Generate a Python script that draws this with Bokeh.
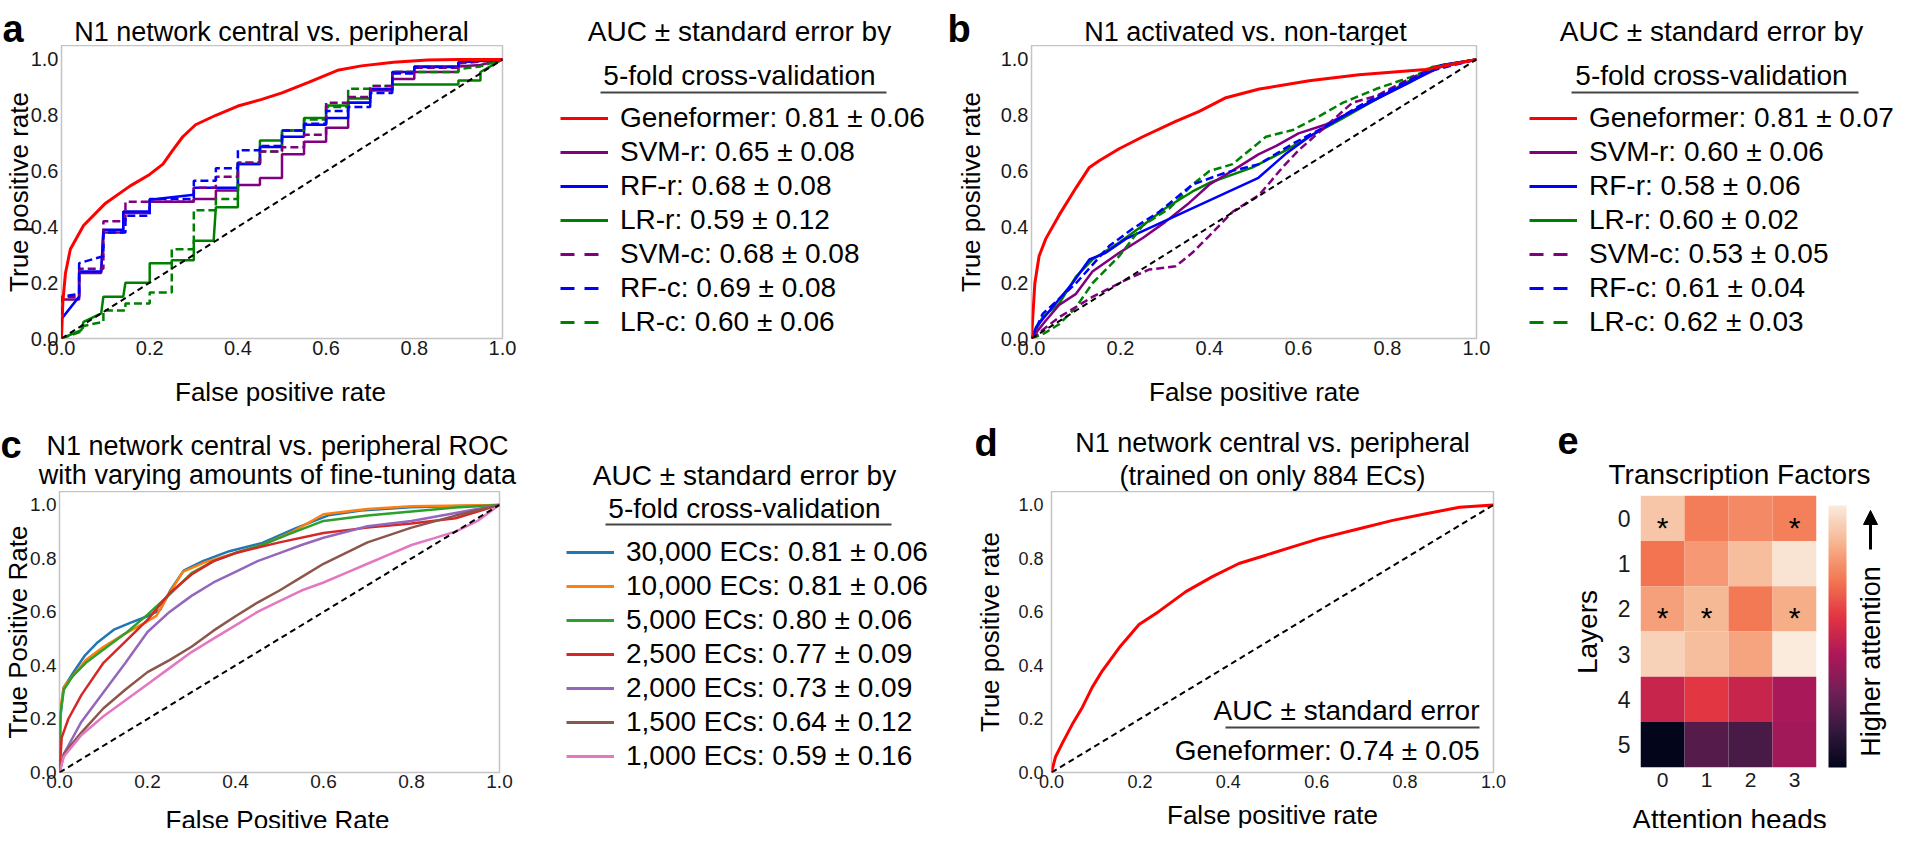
import numpy as np
from bokeh.plotting import figure
from bokeh.layouts import row, column
from bokeh.models import (Legend, LegendItem, Label, ColorBar, LinearColorMapper, NormalHead,
                          FixedTicker, ColumnDataSource, Arrow, PrintfTickFormatter, Range1d)
from bokeh.core.properties import value
from bokeh.embed import file_html
from bokeh.resources import INLINE

FONT = "Liberation Sans"

# ---------------------------------------------------------------- data
TICKS = [0.0, 0.2, 0.4, 0.6, 0.8, 1.0]
CHANCE = [0.0, 1.0]

# ---- panel a : N1 network central vs. peripheral
A_TITLE = "N1 network central vs. peripheral"
A_LABELS = ["Geneformer: 0.81 \u00b1 0.06", "SVM-r: 0.65 \u00b1 0.08", "RF-r: 0.68 \u00b1 0.08",
            "LR-r: 0.59 \u00b1 0.12", "SVM-c: 0.68 \u00b1 0.08", "RF-c: 0.69 \u00b1 0.08",
            "LR-c: 0.60 \u00b1 0.06"]
A_GF_X = [0, 0.003, 0.009, 0.02, 0.05, 0.1, 0.155, 0.2, 0.23, 0.252, 0.275, 0.304, 0.35, 0.4,
          0.454, 0.5, 0.56, 0.626, 0.68, 0.753, 0.83, 0.9, 1.0]
A_GF_Y = [0, 0.13, 0.234, 0.32, 0.405, 0.485, 0.546, 0.588, 0.625, 0.674, 0.723, 0.766, 0.80,
          0.833, 0.857, 0.88, 0.918, 0.961, 0.977, 0.99, 0.998, 1.0, 1.0]
A_SVMR_X = [0, 0, 0.04, 0.04, 0.09, 0.095, 0.14, 0.14, 0.2, 0.2, 0.3, 0.3, 0.35, 0.35, 0.4, 0.4,
            0.45, 0.45, 0.5, 0.5, 0.55, 0.55, 0.6, 0.6, 0.65, 0.65, 0.7, 0.7, 0.75, 0.75, 0.8, 0.8,
            0.9, 0.9, 0.95, 1.0]
A_SVMR_Y = [0, 0.14, 0.14, 0.235, 0.235, 0.38, 0.38, 0.45, 0.45, 0.49, 0.49, 0.50, 0.50, 0.53,
            0.53, 0.55, 0.55, 0.575, 0.575, 0.66, 0.66, 0.705, 0.705, 0.755, 0.755, 0.845, 0.845,
            0.89, 0.89, 0.93, 0.93, 0.955, 0.955, 0.975, 0.98, 1.0]
A_RFR_X = [0, 0, 0.04, 0.04, 0.09, 0.095, 0.14, 0.14, 0.2, 0.2, 0.3, 0.3, 0.4, 0.4, 0.45, 0.45,
           0.5, 0.5, 0.55, 0.55, 0.6, 0.6, 0.65, 0.65, 0.7, 0.7, 0.75, 0.75, 0.8, 0.8, 0.9, 0.9, 1.0]
A_RFR_Y = [0, 0.07, 0.15, 0.24, 0.24, 0.39, 0.39, 0.455, 0.455, 0.497, 0.515, 0.54, 0.54, 0.625,
           0.625, 0.686, 0.686, 0.723, 0.723, 0.766, 0.766, 0.79, 0.79, 0.845, 0.845, 0.894, 0.894,
           0.955, 0.955, 0.975, 0.975, 0.99, 1.0]
A_LRR_X = [0, 0.045, 0.05, 0.09, 0.095, 0.14, 0.145, 0.2, 0.2, 0.25, 0.25, 0.3, 0.3, 0.345, 0.35,
           0.4, 0.4, 0.45, 0.45, 0.5, 0.5, 0.55, 0.55, 0.6, 0.6, 0.65, 0.65, 0.7, 0.7, 0.75, 0.75,
           0.9, 0.9, 0.95, 0.95, 1.0]
A_LRR_Y = [0.0, 0.03, 0.06, 0.09, 0.15, 0.15, 0.2, 0.2, 0.27, 0.27, 0.28, 0.28, 0.35, 0.35, 0.47,
           0.47, 0.625, 0.625, 0.71, 0.71, 0.745, 0.745, 0.79, 0.79, 0.835, 0.835, 0.86, 0.86,
           0.89, 0.89, 0.91, 0.91, 0.925, 0.925, 0.955, 1.0]
A_SVMC_X = [0, 0, 0.04, 0.04, 0.095, 0.095, 0.145, 0.145, 0.3, 0.3, 0.35, 0.35, 0.4, 0.4, 0.45,
            0.45, 0.5, 0.5, 0.55, 0.55, 0.6, 0.6, 0.65, 0.65, 0.7, 0.7, 0.75, 0.75, 0.8, 0.8, 0.9,
            0.9, 1.0]
A_SVMC_Y = [0, 0.15, 0.15, 0.25, 0.25, 0.42, 0.42, 0.49, 0.49, 0.54, 0.54, 0.58, 0.58, 0.63, 0.63,
            0.67, 0.67, 0.685, 0.685, 0.73, 0.73, 0.845, 0.845, 0.865, 0.865, 0.905, 0.905, 0.955,
            0.955, 0.97, 0.97, 0.985, 1.0]
A_RFC_X = [0, 0, 0.02, 0.04, 0.04, 0.095, 0.095, 0.145, 0.145, 0.2, 0.2, 0.3, 0.3, 0.35, 0.35, 0.4,
           0.4, 0.45, 0.45, 0.5, 0.5, 0.55, 0.55, 0.6, 0.6, 0.65, 0.65, 0.7, 0.7, 0.75, 0.75, 0.8,
           0.8, 0.9, 0.9, 1.0]
A_RFC_Y = [0, 0.15, 0.155, 0.16, 0.27, 0.295, 0.38, 0.38, 0.44, 0.44, 0.5, 0.5, 0.565, 0.565, 0.61,
           0.61, 0.675, 0.675, 0.69, 0.69, 0.745, 0.745, 0.77, 0.77, 0.815, 0.815, 0.83, 0.83,
           0.88, 0.88, 0.95, 0.95, 0.973, 0.973, 0.99, 1.0]
A_LRC_X = [0, 0.045, 0.05, 0.095, 0.095, 0.145, 0.145, 0.2, 0.2, 0.25, 0.25, 0.3, 0.3, 0.35, 0.35,
           0.4, 0.4, 0.45, 0.45, 0.5, 0.5, 0.55, 0.55, 0.6, 0.6, 0.65, 0.65, 0.7, 0.7, 0.75, 0.75,
           0.9, 0.9, 0.95, 1.0]
A_LRC_Y = [0, 0.025, 0.045, 0.06, 0.1, 0.1, 0.125, 0.125, 0.165, 0.165, 0.32, 0.32, 0.46, 0.46,
           0.5, 0.5, 0.63, 0.63, 0.67, 0.67, 0.745, 0.745, 0.785, 0.785, 0.83, 0.83, 0.895, 0.895,
           0.905, 0.905, 0.955, 0.955, 0.965, 0.975, 1.0]

# ---- panel b : N1 activated vs. non-target
B_TITLE = "N1 activated vs. non-target"
B_LABELS = ["Geneformer: 0.81 \u00b1 0.07", "SVM-r: 0.60 \u00b1 0.06", "RF-r: 0.58 \u00b1 0.06",
            "LR-r: 0.60 \u00b1 0.02", "SVM-c: 0.53 \u00b1 0.05", "RF-c: 0.61 \u00b1 0.04",
            "LR-c: 0.62 \u00b1 0.03"]
B_GF_X = [0, 0.0075, 0.017, 0.032, 0.062, 0.1, 0.13, 0.152, 0.197, 0.25, 0.324, 0.377, 0.437,
          0.512, 0.624, 0.736, 0.886, 1.0]
B_GF_Y = [0, 0.198, 0.295, 0.357, 0.442, 0.54, 0.613, 0.637, 0.68, 0.723, 0.778, 0.814, 0.863,
          0.894, 0.924, 0.945, 0.964, 1.0]
B_SVMR_X = [0, 0.03, 0.062, 0.1, 0.137, 0.197, 0.25, 0.3, 0.35, 0.4, 0.45, 0.51, 0.55, 0.6, 0.66,
            0.72, 0.78, 0.856, 0.92, 1.0]
B_SVMR_Y = [0, 0.06, 0.12, 0.16, 0.24, 0.307, 0.36, 0.417, 0.48, 0.552, 0.6, 0.66, 0.69, 0.735,
            0.766, 0.814, 0.863, 0.924, 0.973, 1.0]
B_RFR_X = [0, 0.01, 0.047, 0.092, 0.13, 0.167, 0.212, 0.51, 0.57, 0.624, 0.7, 0.774, 0.85, 0.92, 1.0]
B_RFR_Y = [0, 0.04, 0.112, 0.198, 0.283, 0.307, 0.357, 0.576, 0.66, 0.723, 0.796, 0.857, 0.918,
           0.979, 1.0]
B_LRR_X = [0, 0.025, 0.062, 0.1, 0.137, 0.197, 0.25, 0.3, 0.362, 0.4, 0.497, 0.571, 0.624, 0.7,
           0.774, 0.85, 0.9, 1.0]
B_LRR_Y = [0, 0.076, 0.125, 0.222, 0.283, 0.344, 0.405, 0.466, 0.527, 0.558, 0.613, 0.674, 0.723,
           0.79, 0.857, 0.924, 0.973, 1.0]
B_SVMC_X = [0, 0.062, 0.137, 0.212, 0.264, 0.324, 0.362, 0.4, 0.452, 0.512, 0.564, 0.6, 0.661,
            0.721, 0.774, 0.856, 0.92, 1.0]
B_SVMC_Y = [0, 0.076, 0.149, 0.21, 0.247, 0.259, 0.308, 0.369, 0.454, 0.515, 0.613, 0.674, 0.76,
            0.845, 0.869, 0.936, 0.979, 1.0]
B_RFC_X = [0, 0.025, 0.1, 0.175, 0.227, 0.287, 0.362, 0.437, 0.512, 0.587, 0.661, 0.736, 0.811,
           0.886, 1.0]
B_RFC_Y = [0, 0.088, 0.198, 0.332, 0.393, 0.454, 0.552, 0.595, 0.625, 0.698, 0.76, 0.833, 0.894,
           0.955, 1.0]
B_LRC_X = [0, 0.025, 0.062, 0.1, 0.137, 0.197, 0.25, 0.31, 0.362, 0.4, 0.452, 0.527, 0.587, 0.646,
           0.7, 0.774, 0.85, 0.91, 1.0]
B_LRC_Y = [0, 0.015, 0.051, 0.112, 0.198, 0.295, 0.405, 0.466, 0.552, 0.6, 0.625, 0.723, 0.747,
           0.796, 0.845, 0.894, 0.936, 0.973, 1.0]

# ---- panel c : varying amounts of fine-tuning data
C_TITLE = ["N1 network central vs. peripheral ROC", "with varying amounts of fine-tuning data"]
C_LABELS = ["30,000 ECs: 0.81 \u00b1 0.06", "10,000 ECs: 0.81 \u00b1 0.06", "5,000 ECs: 0.80 \u00b1 0.06",
            "2,500 ECs: 0.77 \u00b1 0.09", "2,000 ECs: 0.73 \u00b1 0.09", "1,500 ECs: 0.64 \u00b1 0.12",
            "1,000 ECs: 0.59 \u00b1 0.16"]
C_30K_X = [0, 0.0015, 0.009, 0.028, 0.058, 0.087, 0.125, 0.162, 0.2, 0.229, 0.252, 0.282, 0.327,
           0.386, 0.461, 0.536, 0.611, 0.685, 0.797, 1.0]
C_30K_Y = [0, 0.195, 0.316, 0.365, 0.438, 0.487, 0.535, 0.56, 0.584, 0.608, 0.681, 0.754, 0.791,
           0.827, 0.858, 0.912, 0.961, 0.979, 0.991, 1.0]
C_10K_X = [0, 0.003, 0.01, 0.03, 0.06, 0.1, 0.15, 0.2, 0.22, 0.25, 0.28, 0.33, 0.4, 0.46, 0.53,
           0.6, 0.7, 0.8, 1.0]
C_10K_Y = [0, 0.25, 0.32, 0.36, 0.42, 0.47, 0.52, 0.565, 0.585, 0.67, 0.75, 0.785, 0.82, 0.85, 0.9,
           0.965, 0.985, 0.995, 1.0]
C_5K_X = [0, 0.002, 0.01, 0.03, 0.06, 0.1, 0.15, 0.2, 0.25, 0.3, 0.35, 0.4, 0.46, 0.52, 0.6, 0.7,
          0.8, 0.9, 1.0]
C_5K_Y = [0, 0.22, 0.31, 0.36, 0.41, 0.46, 0.52, 0.59, 0.665, 0.745, 0.79, 0.82, 0.85, 0.89, 0.94,
          0.96, 0.975, 0.99, 1.0]
C_2500_X = [0, 0.005, 0.02, 0.05, 0.1, 0.15, 0.2, 0.25, 0.3, 0.35, 0.4, 0.5, 0.6, 0.7, 0.8, 0.9, 1.0]
C_2500_Y = [0, 0.13, 0.2, 0.29, 0.41, 0.49, 0.57, 0.67, 0.74, 0.79, 0.82, 0.86, 0.895, 0.915, 0.93,
            0.95, 1.0]
C_2000_X = [0, 0.01, 0.05, 0.1, 0.15, 0.2, 0.25, 0.3, 0.35, 0.4, 0.45, 0.5, 0.55, 0.6, 0.7, 0.8,
            0.9, 1.0]
C_2000_Y = [0, 0.07, 0.19, 0.3, 0.41, 0.525, 0.6, 0.66, 0.71, 0.75, 0.79, 0.82, 0.85, 0.877, 0.92,
            0.94, 0.97, 1.0]
C_1500_X = [0, 0.01, 0.05, 0.1, 0.15, 0.2, 0.25, 0.3, 0.35, 0.4, 0.45, 0.5, 0.55, 0.6, 0.7, 0.8,
            0.9, 1.0]
C_1500_Y = [0, 0.07, 0.15, 0.24, 0.31, 0.375, 0.42, 0.47, 0.53, 0.584, 0.635, 0.68, 0.73, 0.78,
            0.86, 0.915, 0.96, 1.0]
C_1000_X = [0, 0.01, 0.05, 0.1, 0.15, 0.2, 0.25, 0.3, 0.35, 0.4, 0.45, 0.5, 0.55, 0.6, 0.65, 0.7,
            0.75, 0.8, 0.85, 0.9, 0.95, 1.0]
C_1000_Y = [0, 0.06, 0.14, 0.21, 0.27, 0.33, 0.39, 0.45, 0.5, 0.55, 0.6, 0.64, 0.68, 0.71, 0.745,
            0.78, 0.815, 0.85, 0.875, 0.9, 0.94, 1.0]

# ---- panel d : trained on only 884 ECs
D_TITLE = ["N1 network central vs. peripheral", "(trained on only 884 ECs)"]
D_X = [0, 0.009, 0.024, 0.047, 0.07, 0.092, 0.115, 0.153, 0.198, 0.243, 0.304, 0.364, 0.424,
       0.485, 0.545, 0.606, 0.696, 0.772, 0.847, 0.923, 1.0]
D_Y = [0, 0.058, 0.108, 0.18, 0.244, 0.318, 0.38, 0.466, 0.553, 0.602, 0.676, 0.732, 0.781, 0.812,
       0.843, 0.874, 0.911, 0.942, 0.967, 0.991, 1.0]
D_AUC = "Geneformer: 0.74 \u00b1 0.05"

# ---- panel e : attention heatmap (layers x heads, relative attention)
E_TITLE = "Transcription Factors"
E_LAYERS = [0, 1, 2, 3, 4, 5]
E_HEADS = [0, 1, 2, 3]
E_ATT = [[0.90, 0.73, 0.76, 0.735],
         [0.71, 0.79, 0.88, 0.98],
         [0.81, 0.87, 0.72, 0.84],
         [0.93, 0.88, 0.82, 1.00],
         [0.50, 0.58, 0.50, 0.42],
         [0.00, 0.22, 0.19, 0.40]]
E_STAR_LAYER = [0, 0, 2, 2, 2]
E_STAR_HEAD = [0, 3, 0, 1, 3]
E_CBAR_LABEL = "Higher attention"

LEG_TITLE = ["AUC \u00b1 standard error by", "5-fold cross-validation"]
FPR_LABEL, TPR_LABEL = "False positive rate", "True positive rate"

# ---------------------------------------------------------------- styles
RED, PURPLE, BLUE, GREEN = "#ff0000", "#800080", "#0000ff", "#008000"
AB_COLORS = [RED, PURPLE, BLUE, GREEN, PURPLE, BLUE, GREEN]
AB_DASH = ["solid", "solid", "solid", "solid", "8 4", "8 4", "8 4"]
AB_LEG_DASH = ["solid", "solid", "solid", "solid", "14 10", "14 10", "14 10"]
C_COLORS = ["#1f77b4", "#ff7f0e", "#2ca02c", "#d62728", "#9467bd", "#8c564b", "#e377c2"]

ROCKET_POS = [0.0, 0.143, 0.286, 0.429, 0.571, 0.714, 0.857, 1.0]
ROCKET_HEX = ["#03051A", "#35193E", "#701F57", "#AD1759", "#E13342", "#F37651", "#F6B48F", "#FAEBDD"]
NAN = float("nan")


def make_palette(n=256):
    rgb = np.array([[int(h[i:i + 2], 16) for i in (1, 3, 5)] for h in ROCKET_HEX], float)
    out = []
    for v in np.linspace(0, 1, n):
        c = [int(round(np.interp(v, ROCKET_POS, rgb[:, k]))) for k in range(3)]
        out.append("#%02x%02x%02x" % tuple(c))
    return out


def blank_fig(width, height, bottom=0):
    p = figure(width=width, height=height, x_range=Range1d(0, 1), y_range=Range1d(0, 1),
               x_axis_location=None, y_axis_location=None, output_backend="svg",
               toolbar_location=None, min_border=0, min_border_left=0, min_border_right=0,
               min_border_top=0, min_border_bottom=bottom)
    p.outline_line_color = None
    p.grid.visible = False
    return p


def add_text(p, txt, x, y, size="28px", align="center", style="normal", baseline="middle",
             angle=0):
    p.add_layout(Label(x=x, y=y, x_units="screen", y_units="screen", text=txt, angle=angle,
                       angle_units="deg", text_font=FONT, text_font_size=size,
                       text_font_style=style, text_align=align, text_baseline=baseline,
                       text_color="black"))


def letter(p, txt, x, y):
    add_text(p, txt, x, y, size="38px", align="left", style="bold", baseline="alphabetic")


def underline(p, x0, x1, y):
    p.add_layout(Arrow(end=None, x_start=x0, y_start=y, x_end=x1, y_end=y,
                       start_units="screen", end_units="screen",
                       line_color="#444444", line_width=2))


def style_axis(ax, tick_size, standoff):
    ax.major_label_text_font = FONT
    ax.major_label_text_font_size = tick_size
    ax.major_label_text_color = "#1a1a1a"
    ax.axis_label_text_font = FONT
    ax.axis_label_text_font_size = "26px"
    ax.axis_label_text_font_style = "normal"
    ax.axis_label_text_color = "black"
    ax.axis_line_color = None
    ax.major_tick_line_color = None
    ax.minor_tick_line_color = None
    ax.major_tick_out = 0
    ax.major_tick_in = 0
    ax.minor_tick_out = 0
    ax.minor_tick_in = 0
    ax.major_label_standoff = standoff


def roc_figure(width, height, left, right, bottom, ylabel, tick_size="20px",
               ytick_standoff=3, ylab_standoff=0):
    p = figure(width=width, height=height, x_range=Range1d(0, 1), y_range=Range1d(0, 1.05),
               output_backend="svg", toolbar_location=None, y_axis_label=ylabel,
               min_border_left=left, min_border_right=right,
               min_border_top=0, min_border_bottom=bottom)
    p.xaxis.axis_label = None
    fmt = PrintfTickFormatter(format="%.1f")
    for ax in (p.xaxis[0], p.yaxis[0]):
        ax.ticker = FixedTicker(ticks=TICKS)
        ax.formatter = fmt
    style_axis(p.xaxis[0], tick_size, 2)
    style_axis(p.yaxis[0], tick_size, ytick_standoff)
    p.yaxis.axis_label_standoff = ylab_standoff
    p.grid.visible = False
    p.outline_line_color = "#c4c4c4"
    p.outline_line_width = 1.5
    return p


def legend_figure(width, height, bottom, labels, colors, dashes, loc, tx, ty2, ux0, ux1, uy):
    p = blank_fig(width, height, bottom)
    items = []
    for lab, col, dash in zip(labels, colors, dashes):
        # legend sample only: a renderer with no drawable points
        r = p.line(x=[NAN, NAN], y=[NAN, NAN], line_color=col, line_dash=dash, line_width=3)
        items.append(LegendItem(label=lab, renderers=[r]))
    leg = Legend(items=items, location=loc, label_text_font=FONT, label_text_font_size="28px",
                 label_text_color="black", glyph_width=48, glyph_height=32, label_height=32,
                 label_standoff=12, spacing=2, padding=0, margin=0, border_line_color=None,
                 background_fill_alpha=0)
    p.add_layout(leg)
    add_text(p, LEG_TITLE[1], tx, ty2)
    underline(p, ux0, ux1, uy)
    return p


# ================================================================ header
h1 = blank_fig(1895, 45)
letter(h1, "a", 2, 17)
add_text(h1, A_TITLE, 271, 14, size="27px")
add_text(h1, LEG_TITLE[0], 739, 14)
letter(h1, "b", 947, 17)
add_text(h1, B_TITLE, 1245, 14, size="27px")
add_text(h1, LEG_TITLE[0], 1711, 14)

# ================================================================ top row
ROW1_H, ROW1_B = 323, 30

pa = roc_figure(532, ROW1_H, 57, 30, ROW1_B, TPR_LABEL, ylab_standoff=-6)
a_series = [(A_GF_X, A_GF_Y), (A_SVMR_X, A_SVMR_Y), (A_RFR_X, A_RFR_Y), (A_LRR_X, A_LRR_Y),
            (A_SVMC_X, A_SVMC_Y), (A_RFC_X, A_RFC_Y), (A_LRC_X, A_LRC_Y)]
for i in [3, 1, 2, 6, 4, 5, 0]:
    xs, ys = a_series[i]
    pa.line(xs, ys, line_color=AB_COLORS[i], line_dash=AB_DASH[i],
            line_width=3 if i == 0 else 2.5)
pa.line(CHANCE, CHANCE, line_color="black", line_dash="6 4", line_width=2)

la = legend_figure(418, ROW1_H, ROW1_B, A_LABELS, AB_COLORS, AB_LEG_DASH, (28, 0),
                   207, 263, 68, 354, 246)

pb = roc_figure(572, ROW1_H, 81, 46, ROW1_B, TPR_LABEL, ylab_standoff=12)
b_series = [(B_GF_X, B_GF_Y), (B_SVMR_X, B_SVMR_Y), (B_RFR_X, B_RFR_Y), (B_LRR_X, B_LRR_Y),
            (B_SVMC_X, B_SVMC_Y), (B_RFC_X, B_RFC_Y), (B_LRC_X, B_LRC_Y)]
for i in [3, 1, 2, 6, 4, 5, 0]:
    xs, ys = b_series[i]
    pb.line(xs, ys, line_color=AB_COLORS[i], line_dash=AB_DASH[i],
            line_width=3 if i == 0 else 2.5)
pb.line(CHANCE, CHANCE, line_color="black", line_dash="6 4", line_width=2)

lb = legend_figure(373, ROW1_H, ROW1_B, B_LABELS, AB_COLORS, AB_LEG_DASH, (7, 0),
                   189, 263, 49, 336, 246)

# ================================================================ middle strip
h2 = blank_fig(1895, 123)
add_text(h2, FPR_LABEL, 280, 100, size="26px")
add_text(h2, FPR_LABEL, 1254, 100, size="26px")
letter(h2, "c", 0, 47)
add_text(h2, C_TITLE[0], 277, 46, size="27px")
add_text(h2, C_TITLE[1], 277, 17, size="27px")
add_text(h2, LEG_TITLE[0], 744, 16)
letter(h2, "d", 974, 49)
add_text(h2, D_TITLE[0], 1272, 49, size="27px")
add_text(h2, D_TITLE[1], 1272, 16, size="27px")
letter(h2, "e", 1557, 51)
add_text(h2, E_TITLE, 1739, 17)

# ================================================================ bottom row
ROW2_H, ROW2_B = 310, 29

pc = roc_figure(540, ROW2_H, 57, 41, ROW2_B, "True Positive Rate", tick_size="19px",
                ylab_standoff=-6)
c_series = [(C_30K_X, C_30K_Y), (C_10K_X, C_10K_Y), (C_5K_X, C_5K_Y), (C_2500_X, C_2500_Y),
            (C_2000_X, C_2000_Y), (C_1500_X, C_1500_Y), (C_1000_X, C_1000_Y)]
for i, (xs, ys) in enumerate(c_series):
    pc.line(xs, ys, line_color=C_COLORS[i], line_width=2.5)
pc.line(CHANCE, CHANCE, line_color="black", line_dash="6 4", line_width=2)

lc = legend_figure(410, ROW2_H, ROW2_B, C_LABELS, C_COLORS, ["solid"] * 7, (26, 0),
                   204, 264, 65, 351, 248)

pd_ = roc_figure(585, ROW2_H, 101, 42, ROW2_B, TPR_LABEL, tick_size="18px",
                 ytick_standoff=8, ylab_standoff=10)
pd_.line(D_X, D_Y, line_color=RED, line_width=3)
pd_.line(CHANCE, CHANCE, line_color="black", line_dash="6 4", line_width=2)
add_text(pd_, "AUC \u00b1 standard error", 428, 62, align="right")
add_text(pd_, D_AUC, 428, 22, align="right")
underline(pd_, 174, 428, 45)

palette = make_palette()
mapper = LinearColorMapper(palette=palette, low=0.0, high=1.0)
hx, hy, hv = [], [], []
for li, lay in enumerate(E_LAYERS):
    for hi, head in enumerate(E_HEADS):
        hx.append(head)
        hy.append(lay)
        hv.append(E_ATT[li][hi])
src = ColumnDataSource(dict(head=hx, layer=hy, att=hv))

pe = figure(width=315, height=ROW2_H, x_range=Range1d(-0.5, 3.5), y_range=Range1d(5.614, -0.592),
            output_backend="svg", toolbar_location=None, y_axis_label="Layers",
            min_border_left=105, min_border_right=34, min_border_top=0, min_border_bottom=ROW2_B)
pe.xaxis.axis_label = None
pe.rect(x="head", y="layer", width=1, height=1, source=src,
        fill_color={"field": "att", "transform": mapper}, line_color=None)
pe.text(x=E_STAR_HEAD, y=E_STAR_LAYER, text=["*"] * len(E_STAR_HEAD),
        text_font=value(FONT), text_font_size="30px", text_align="center",
        text_baseline="middle", y_offset=9, text_color="black")
pe.xaxis.ticker = FixedTicker(ticks=E_HEADS)
pe.yaxis.ticker = FixedTicker(ticks=E_LAYERS)
style_axis(pe.xaxis[0], "21px", 0)
style_axis(pe.yaxis[0], "23px", 10)
pe.yaxis.axis_label_text_font_size = "28px"
pe.yaxis.axis_label_standoff = 12
pe.grid.visible = False
pe.outline_line_color = None
cb = ColorBar(color_mapper=mapper, width=18, height=262, padding=0, margin=0, location=(12, 5),
              ticker=FixedTicker(ticks=[]), major_tick_line_color=None, minor_tick_line_color=None,
              bar_line_color=None, border_line_color=None, background_fill_alpha=0,
              major_label_text_font_size="0px")
pe.add_layout(cb, "right")

# strip to the right of the colour bar holding its (rotated) label and arrow
pe_lab = blank_fig(45, ROW2_H, ROW2_B)
add_text(pe_lab, E_CBAR_LABEL, 20, 111, size="27px", angle=90)
pe_lab.add_layout(Arrow(x_start=20, y_start=223, x_end=20, y_end=262,
                        start_units="screen", end_units="screen", line_color="black",
                        line_width=3, end=NormalHead(size=14, fill_color="black",
                                                     line_color="black")))

# ================================================================ footer (x-axis labels)
h3 = blank_fig(1895, 27)
add_text(h3, "False Positive Rate", 277, 9, size="26px")
add_text(h3, FPR_LABEL, 1272, 14, size="26px")
add_text(h3, "Attention heads", 1729, 9, size="28px")

layout = column(h1, row(pa, la, pb, lb), h2, row(pc, lc, pd_, pe, pe_lab), h3)
open("out.html", "w").write(file_html(layout, INLINE, "Geneformer ROC"))
